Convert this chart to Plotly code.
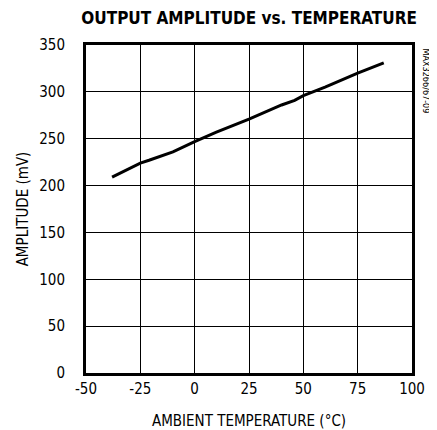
import plotly.graph_objects as go

temperature = [-38, -30, -25, -21, -10, 0, 10, 25, 35, 40, 46, 50, 60, 75, 87]
amplitude = [209, 218, 224, 227, 236, 247, 257, 271, 281, 286, 291, 296, 305, 320, 331]

x_ticks = [-50, -25, 0, 25, 50, 75, 100]
y_ticks = [0, 50, 100, 150, 200, 250, 300, 350]

FONT = "DejaVu Sans Condensed, Liberation Sans Narrow, Arial Narrow, sans-serif"

fig = go.Figure()
fig.add_trace(go.Scatter(x=temperature, y=amplitude, mode="lines",
                         line=dict(color="black", width=3), showlegend=False))

# page body has an 8px margin, so the figure is sized to fit the remaining window
fig.update_layout(
    width=429, height=422,
    margin=dict(l=78, r=25, t=37, b=57),
    paper_bgcolor="white", plot_bgcolor="white",
    font=dict(family=FONT, size=15, color="black"),
    title=dict(text="<b>OUTPUT AMPLITUDE vs. TEMPERATURE</b>",
               font=dict(family=FONT, size=17, color="black"),
               x=0.562, xanchor="center", y=0.976, yanchor="middle"),
)
fig.update_xaxes(range=[-50, 100], tickvals=x_ticks, ticktext=[str(v) for v in x_ticks],
                 showgrid=True, gridcolor="black", gridwidth=1,
                 showline=True, linecolor="black", linewidth=3, mirror=True,
                 ticks="", zeroline=False, ticklabelstandoff=0, automargin=False,
                 title=dict(text="AMBIENT TEMPERATURE (°C)", standoff=20,
                            font=dict(family=FONT, size=15)))
fig.update_yaxes(range=[0, 350], tickvals=y_ticks, ticktext=[str(v) for v in y_ticks],
                 showgrid=True, gridcolor="black", gridwidth=1,
                 showline=True, linecolor="black", linewidth=3, mirror=True,
                 ticks="", zeroline=False, ticklabelstandoff=15, automargin=False,
                 title=dict(text="AMPLITUDE (mV)", standoff=7,
                            font=dict(family=FONT, size=15)))
fig.add_annotation(text="MAX3266/67-09", xref="paper", yref="paper",
                   x=1.0, y=1.0, xshift=14, yshift=-1, xanchor="center", yanchor="top",
                   textangle=90, showarrow=False,
                   font=dict(family=FONT, size=9, color="black"))

fig.write_html("out.html")
